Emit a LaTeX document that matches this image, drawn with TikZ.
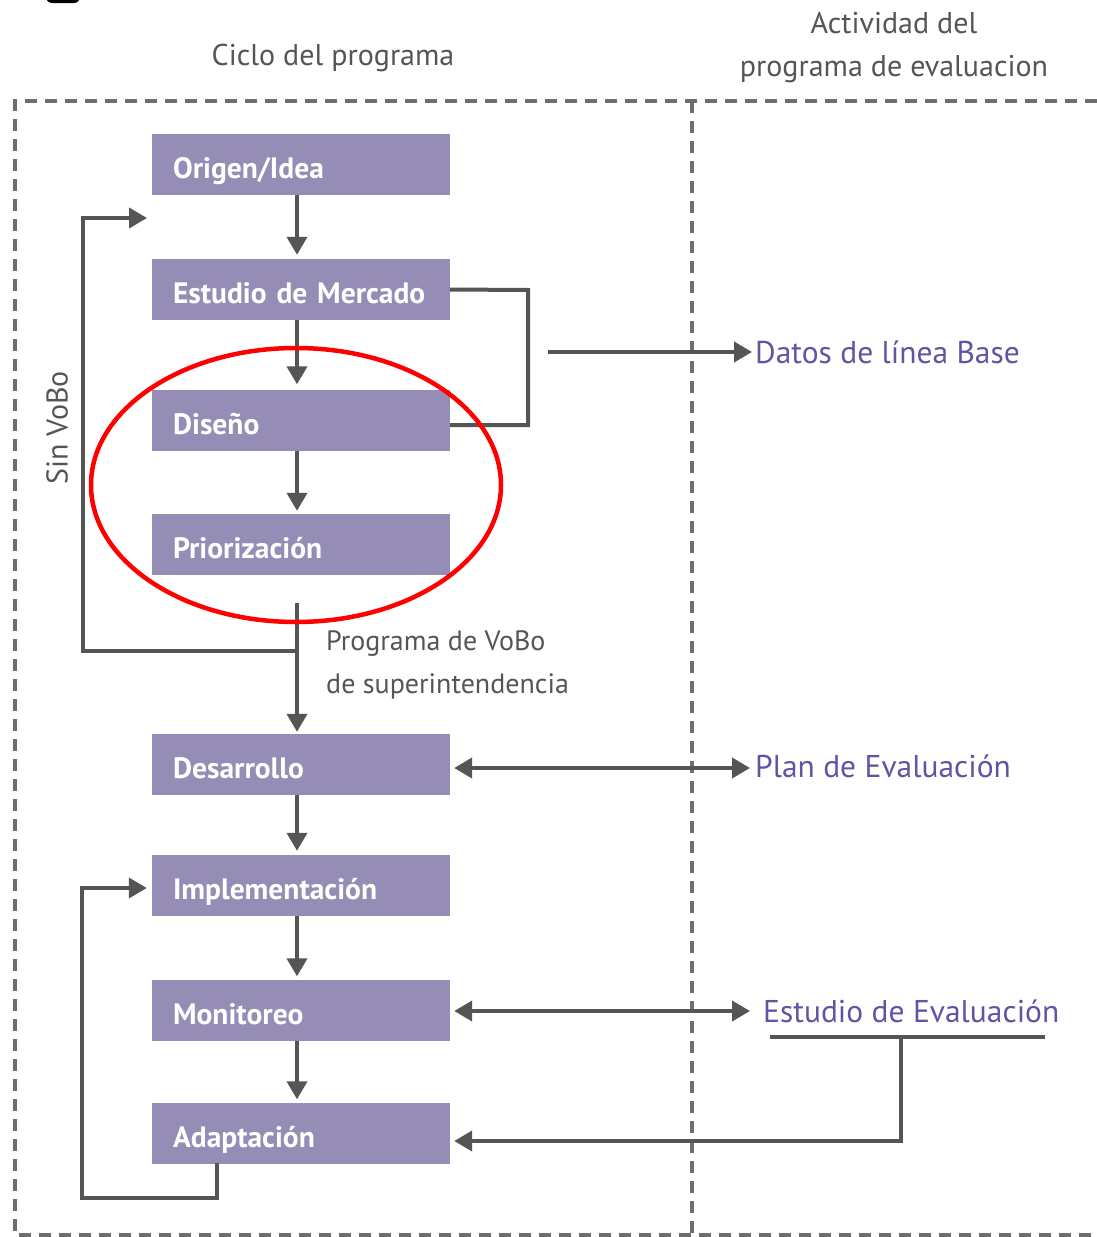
\documentclass[tikz,border=0pt]{standalone}
\usepackage{fontspec}
\setmainfont{PT Sans}
\usetikzlibrary{arrows.meta}
\definecolor{boxfill}{HTML}{958DB6}
\definecolor{linegray}{HTML}{555555}
\definecolor{dashgray}{HTML}{6E6E6E}
\definecolor{labelpurple}{HTML}{5E55A3}
\definecolor{titlegray}{HTML}{555555}

\begin{document}
\begin{tikzpicture}[x=1pt,y=-1pt,
  stage/.style={rectangle, fill=boxfill, minimum width=298pt, minimum height=61pt,
    text width=256pt, inner xsep=21pt, inner ysep=0pt, align=left, text=white,
    text height=28pt, text depth=0pt,
    font=\bfseries\fontsize{29.5}{34}\selectfont},
  title/.style={text=titlegray, font=\fontsize{30}{43}\selectfont, align=center, inner sep=0pt},
  evlabel/.style={text=labelpurple, font=\fontsize{31.5}{34}\selectfont, anchor=west, inner sep=0pt},
  conn/.style={draw=linegray, line width=4pt, -{Triangle[length=18pt,width=20pt]}},
  plainline/.style={draw=linegray, line width=4pt},
  twoway/.style={draw=linegray, line width=4pt, {Triangle[length=18pt,width=20pt]}-{Triangle[length=18pt,width=20pt]}},
  frame/.style={draw=dashgray, line width=3.5pt, dash pattern=on 12pt off 8pt}
]
\useasboundingbox (0,0) rectangle (1097,1237);

% partial dark mark at the top edge
\fill[black, rounded corners=6pt] (46,-12) rectangle (80,3);

% column headings
\node[title] (hcycle) at (333,58) {Ciclo del programa};
\node[title] (hactivity) at (894,48) {Actividad del\\programa de evaluacion};

% dashed frame and column divider
\draw[frame] (1097,101) -- (15,101) -- (15,1235) -- (1097,1235);
\draw[frame] (692,101) -- (692,1235);

% program stages
\node[stage] (origen) at (301,164.5) {Origen/Idea};
\node[stage] (estudio) at (301,289.5) {Estudio de Mercado};
\node[stage] (diseno) at (301,420) {Diseño};
\node[stage] (prior) at (301,544.5) {Priorización};
\node[stage] (desarr) at (301,764.5) {Desarrollo};
\node[stage] (implem) at (301,885.5) {Implementación};
\node[stage] (monit) at (301,1010) {Monitoreo};
\node[stage] (adapt) at (301,1133) {Adaptación};

% evaluation activities
\node[evlabel] (datos) at (755,352) {Datos de línea Base};
\node[evlabel] (plan) at (755,766) {Plan de Evaluación};
\node[evlabel] (estev) at (763,1011) {Estudio de Evaluación};

% side labels
\node[text=titlegray, font=\fontsize{30}{34}\selectfont, rotate=90, inner sep=0pt] (sinvobo) at (57,428) {Sin VoBo};
\node[text=titlegray, font=\fontsize{28}{43}\selectfont, align=left, anchor=north west, inner sep=0pt] (vobo) at (326,630) {Programa de VoBo\\de superintendencia};

% helper points
\coordinate (vstart) at (297,603);
\coordinate (vsplit) at (297,651);
\coordinate (loopin) at (147,218);
\coordinate (brk) at (548,352);
\coordinate (ul1) at (770,1037);
\coordinate (ul2) at (1045,1037);
\coordinate (ulmid) at (901,1037);

% main flow
\draw[conn, shorten >=4pt] ([xshift=-4pt]origen.south) -- ([xshift=-4pt]estudio.north);
\draw[conn, shorten >=5pt] ([xshift=-4pt]estudio.south) -- ([xshift=-4pt]diseno.north);
\draw[conn, shorten >=3pt] ([xshift=-4pt]diseno.south) -- ([xshift=-4pt]prior.north);
\draw[conn, shorten >=2pt] (vstart) -- ([xshift=-4pt]desarr.north);
\draw[conn, shorten >=4pt] ([xshift=-4pt]desarr.south) -- ([xshift=-4pt]implem.north);
\draw[conn, shorten >=3pt] ([xshift=-4pt]implem.south) -- ([xshift=-4pt]monit.north);
\draw[conn, shorten >=3pt] ([xshift=-4pt]monit.south) -- ([xshift=-4pt]adapt.north);

% loop back without approval
\draw[conn] (vsplit) -- (83,651) -- (83,218) -- (loopin);

% market study and design feed the baseline data
\draw[plainline] (estudio.east) -- (528,290) -- (528,425) -- (diseno.east |- 0,425);
\draw[conn, shorten >=3pt] (brk) -- (datos.west);

% two-way links with evaluation
\draw[twoway, shorten <=4pt, shorten >=5pt] (desarr.east |- 0,768) -- (plan.west |- 0,768);
\draw[twoway, shorten <=4pt, shorten >=13pt] (monit.east |- 0,1011) -- (estev.west);

% evaluation study feeds adaptation
\draw[plainline] (ul1) -- (ul2);
\draw[conn, shorten >=4pt] (ulmid) -- (901,1141) -- (adapt.east |- 0,1141);

% adaptation loops back to implementation
\draw[conn, shorten >=5pt] (217,1163) -- (217,1198) -- (82,1198) -- (82,888) -- (implem.west |- 0,888);

% highlighted group
\draw[red, line width=4.5pt] (296,485) ellipse [x radius=205, y radius=137];
\end{tikzpicture}
\end{document}
